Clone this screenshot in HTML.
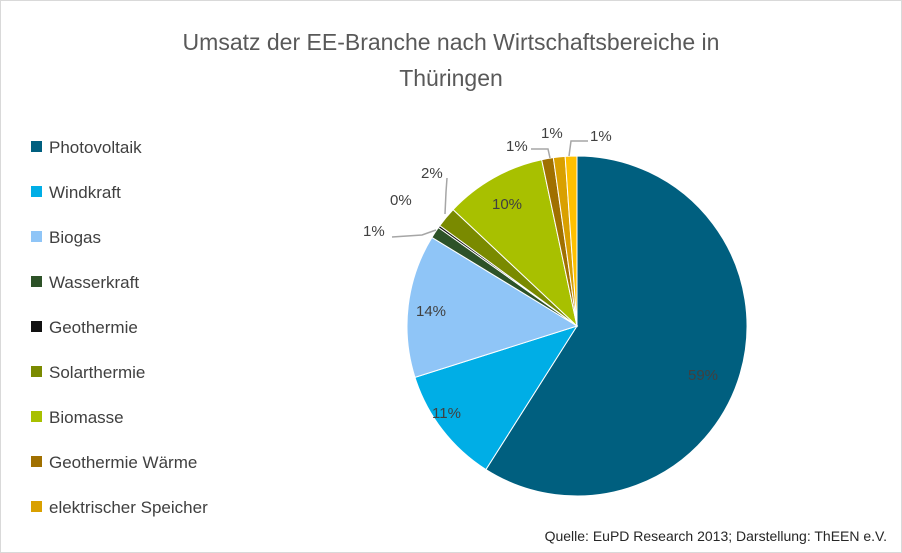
<!DOCTYPE html>
<html><head><meta charset="utf-8"><style>
body{margin:0;background:#fff}
svg{display:block;font-family:"Liberation Sans","DejaVu Sans",sans-serif}
</style></head><body>
<svg width="902" height="553" viewBox="0 0 902 553">
<rect x="0.5" y="0.5" width="901" height="552" fill="#fff" stroke="#d9d9d9"/>
<text x="451" y="50" font-size="23" fill="#595959" text-anchor="middle">Umsatz der EE-Branche nach Wirtschaftsbereiche in</text>
<text x="451" y="86" font-size="23" fill="#595959" text-anchor="middle">Thüringen</text>
<g font-size="17" fill="#404040">
<rect x="31" y="141" width="11" height="11" fill="#005f7f"/><text x="49" y="153">Photovoltaik</text>
<rect x="31" y="186" width="11" height="11" fill="#00aee6"/><text x="49" y="198">Windkraft</text>
<rect x="31" y="231" width="11" height="11" fill="#8fc5f7"/><text x="49" y="243">Biogas</text>
<rect x="31" y="276" width="11" height="11" fill="#2d5228"/><text x="49" y="288">Wasserkraft</text>
<rect x="31" y="321" width="11" height="11" fill="#111"/><text x="49" y="333">Geothermie</text>
<rect x="31" y="366" width="11" height="11" fill="#7a8a00"/><text x="49" y="378">Solarthermie</text>
<rect x="31" y="411" width="11" height="11" fill="#a8c000"/><text x="49" y="423">Biomasse</text>
<rect x="31" y="456" width="11" height="11" fill="#a07000"/><text x="49" y="468">Geothermie Wärme</text>
<rect x="31" y="501" width="11" height="11" fill="#d9a000"/><text x="49" y="513">elektrischer Speicher</text>
</g>
<g stroke="#fff" stroke-width="1">
<path fill="#005f7f" d="M577,326 L577,156 A170,170 0 1 1 485.91,469.53 Z"/>
<path fill="#00aee6" d="M577,326 L485.91,469.53 A170,170 0 0 1 414.96,377.41 Z"/>
<path fill="#8fc5f7" d="M577,326 L414.96,377.41 A170,170 0 0 1 431.90,237.43 Z"/>
<path fill="#2d5228" d="M577,326 L431.90,237.43 A170,170 0 0 1 438.43,227.52 Z"/>
<path fill="#111" d="M577,326 L438.43,227.52 A170,170 0 0 1 439.81,225.60 Z"/>
<path fill="#7a8a00" d="M577,326 L439.81,225.60 A170,170 0 0 1 453.07,209.64 Z"/>
<path fill="#a8c000" d="M577,326 L453.07,209.64 A170,170 0 0 1 541.66,159.72 Z"/>
<path fill="#a07000" d="M577,326 L541.66,159.72 A170,170 0 0 1 553.34,157.65 Z"/>
<path fill="#d9a000" d="M577,326 L553.34,157.65 A170,170 0 0 1 565.14,156.41 Z"/>
<path fill="#ffc000" d="M577,326 L565.14,156.41 A170,170 0 0 1 577,156 Z"/>
</g>
<g fill="none" stroke="#a6a6a6" stroke-width="1.5">
<polyline points="392,237 422,235 436,230"/>
<polyline points="447,178 446,192 445,214"/>
<polyline points="531,149 548,149 550,158"/>
<polyline points="588,141 571,141 569,156"/>
</g>
<g font-size="15" fill="#404040">
<text x="363" y="236">1%</text>
<text x="390" y="205">0%</text>
<text x="421" y="178">2%</text>
<text x="492" y="209">10%</text>
<text x="506" y="151">1%</text>
<text x="541" y="138">1%</text>
<text x="590" y="141">1%</text>
<text x="688" y="380">59%</text>
<text x="432" y="418">11%</text>
<text x="416" y="316">14%</text>
</g>
<text x="887" y="541" font-size="14" fill="#262626" text-anchor="end">Quelle: EuPD Research 2013; Darstellung: ThEEN e.V.</text>
</svg>
</body></html>
